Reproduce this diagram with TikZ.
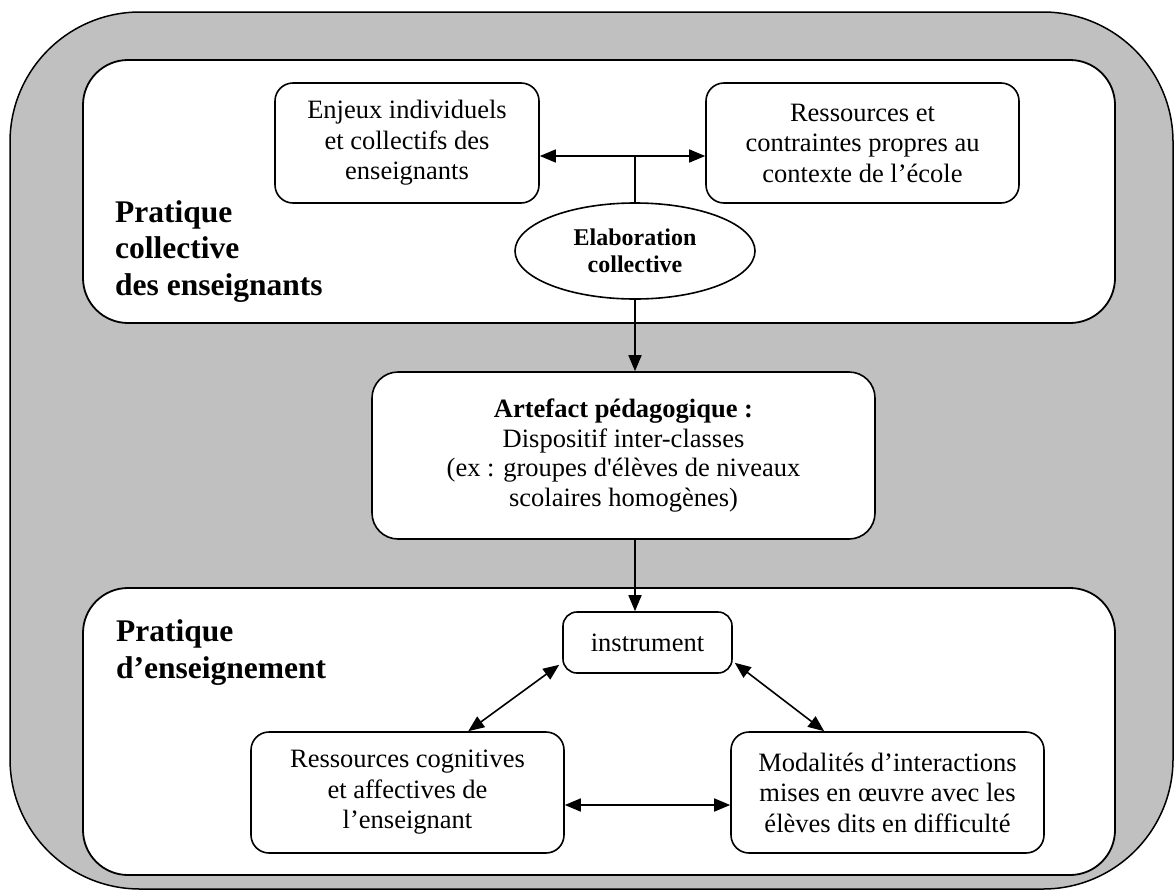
\documentclass[tikz,border=0pt]{standalone}
\usepackage{fontspec}
\setmainfont{Liberation Serif}
\usetikzlibrary{arrows.meta,shapes.geometric,calc}
\definecolor{bggray}{HTML}{C0C0C0}
\tikzset{
  panel/.style={draw=black,line width=1.8pt,fill=white,rounded corners=45pt},
  box/.style={draw=black,line width=1.6pt,fill=white,rounded corners=18pt,align=center,inner sep=0pt,
    font=\fontsize{26.5}{30.5}\selectfont},
  title/.style={anchor=base west,inner sep=0pt,align=left,font=\fontsize{31.5}{36.5}\selectfont\bfseries},
  conn/.style={line width=1.6pt},
  arr/.style={conn,-{Triangle[length=16pt,width=13pt]}},
  darr/.style={conn,{Triangle[length=16pt,width=13pt]}-{Triangle[length=16pt,width=13pt]}}
}
\begin{document}
\begin{tikzpicture}[x=1pt,y=-1pt]
\useasboundingbox (0,0) rectangle (1174,894);
% outer gray frame
\path[draw=black,line width=1.5pt,fill=bggray,rounded corners=130pt] (10,12) rectangle (1173,889);
% panels
\path[panel] (83,60) rectangle (1115,323);
\path[panel] (83,588) rectangle (1115,875);
% titles (anchor = baseline of last line)
\node[title] (t1) at (115,295) {Pratique\\collective\\des enseignants};
\node[title] (t2) at (116,678) {Pratique\\d’enseignement};
% top boxes
\node[box,minimum width=264pt,minimum height=120pt] (enjeux) at (407,143) {Enjeux individuels\\et collectifs des\\enseignants};
\node[box,minimum width=313pt,minimum height=120pt] (ress) at (862.5,143) {Ressources et\\contraintes propres au\\contexte de l’école};
\node[draw=black,line width=1.6pt,fill=white,ellipse,minimum width=240pt,minimum height=96pt,inner sep=0pt,align=center,
  font=\fontsize{24}{27}\selectfont\bfseries] (elab) at (635,251) {Elaboration\\collective};
% middle box
\node[box,rounded corners=26pt,minimum width=503pt,minimum height=167pt,font=\fontsize{26.5}{29.5}\selectfont] (arte) at (623.5,455.5)
  {\textbf{Artefact pédagogique :}\\Dispositif inter-classes\\(ex : groupes d\textquotesingle élèves de niveaux\\scolaires homogènes)};
% bottom boxes
\node[box,rounded corners=14pt,minimum width=169pt,minimum height=61pt] (instr) at (647.5,642.5) {instrument};
\node[box,minimum width=313pt,minimum height=121pt] (cog) at (407.5,792.5) {Ressources cognitives\\et affectives de\\l’enseignant};
\node[box,minimum width=313pt,minimum height=121pt] (mod) at (887.5,792.5) {Modalités d’interactions\\mises en œuvre avec les\\élèves dits en difficulté};
% connectors
\coordinate (jt) at (635,156);
\draw[darr] (enjeux.east |- jt) -- (ress.west |- jt);
\draw[conn] (jt) -- (elab.north);
\draw[arr] (elab.south) -- (elab.south |- arte.north);
\draw[arr] (elab.south |- arte.south) -- (elab.south |- instr.north);
\coordinate (jb) at (0,805);
\draw[darr] (cog.east |- jb) -- (mod.west |- jb);
\draw[darr] ($(instr.south west)+(-3,-9)$) -- ($(cog.north west)+(218,0)$);
\draw[darr] ($(instr.south east)+(2,-11)$) -- ($(mod.north west)+(94,0)$);
\end{tikzpicture}
\end{document}
